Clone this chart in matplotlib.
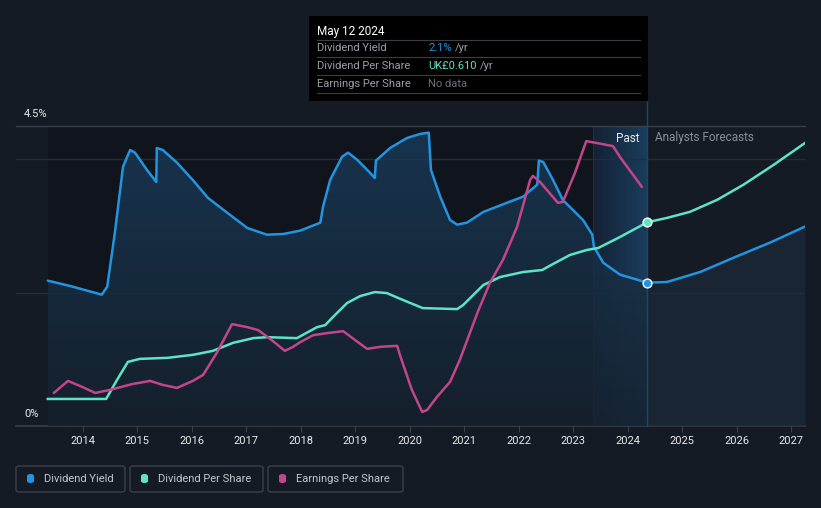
"""
Dividend yield / DPS / EPS history with analyst forecasts (dark theme)
Output: out.png
"""

import numpy as np
import matplotlib.pyplot as plt
from matplotlib.colors import LinearSegmentedColormap
from matplotlib.patches import FancyBboxPatch, Rectangle
from matplotlib.transforms import blended_transform_factory

plt.rcParams["font.family"] = ["Roboto", "DejaVu Sans"]

# ── Data ──────────────────────────────────────────────────────────────────────
YIELD_YEARS = [2013.36, 2013.77, 2014.35, 2014.45, 2014.59, 2014.74, 2014.87, 2014.96,
               2015.18, 2015.35, 2015.36, 2015.47, 2015.73, 2016.02, 2016.30, 2016.65,
               2017.02, 2017.38, 2017.68, 2017.99, 2018.36, 2018.41, 2018.54, 2018.76,
               2018.87, 2019.04, 2019.27, 2019.36, 2019.38, 2019.64, 2019.95, 2020.19,
               2020.35, 2020.39, 2020.56, 2020.74, 2020.87, 2021.05, 2021.35, 2021.79,
               2022.08, 2022.34, 2022.37, 2022.45, 2022.63, 2022.81, 2023.18, 2023.35,
               2023.38, 2023.55, 2023.86, 2024.36]
YIELD_PCT = [2.18, 2.10, 1.97, 2.09, 2.90, 3.89, 4.14, 4.10,
             3.84, 3.66, 4.17, 4.14, 3.95, 3.69, 3.42, 3.20,
             2.97, 2.87, 2.88, 2.93, 3.05, 3.29, 3.69, 4.04,
             4.10, 3.99, 3.80, 3.72, 3.98, 4.17, 4.32, 4.38,
             4.40, 3.84, 3.44, 3.09, 3.02, 3.05, 3.21, 3.35,
             3.44, 3.62, 3.98, 3.96, 3.69, 3.39, 3.09, 2.87,
             2.69, 2.45, 2.27, 2.15]
YIELD_FC_YEARS = [2024.36, 2024.72, 2025.33, 2025.93, 2026.61, 2027.25]
YIELD_FC_PCT   = [2.15, 2.16, 2.31, 2.52, 2.75, 2.99]

DPS_YEARS = [2013.36, 2014.43, 2014.63, 2014.83, 2015.05, 2015.55, 2016.02, 2016.39,
             2016.76, 2017.13, 2017.38, 2017.93, 2018.30, 2018.45, 2018.59, 2018.85,
             2019.09, 2019.36, 2019.58, 2019.88, 2020.24, 2020.87, 2020.98, 2021.35,
             2021.66, 2022.08, 2022.43, 2022.63, 2022.94, 2023.25, 2023.46, 2023.86,
             2024.36]
DPS_GBP = [0.081, 0.081, 0.138, 0.192, 0.201, 0.204, 0.213, 0.225,
           0.249, 0.263, 0.266, 0.263, 0.296, 0.302, 0.326, 0.368,
           0.389, 0.401, 0.398, 0.377, 0.353, 0.350, 0.362, 0.422,
           0.446, 0.461, 0.467, 0.485, 0.512, 0.527, 0.533, 0.566,
           0.610]
DPS_FC_YEARS = [2024.36, 2024.72, 2025.14, 2025.64, 2026.12, 2026.67, 2027.25]
DPS_FC_GBP   = [0.610, 0.623, 0.641, 0.677, 0.722, 0.781, 0.847]

EPS_YEARS = [2013.47, 2013.73, 2013.95, 2014.23, 2014.50, 2014.92, 2015.24, 2015.47,
             2015.73, 2016.02, 2016.21, 2016.46, 2016.74, 2017.02, 2017.22, 2017.47,
             2017.71, 2017.86, 2017.99, 2018.23, 2018.48, 2018.78, 2019.00, 2019.22,
             2019.46, 2019.77, 2019.82, 2020.04, 2020.23, 2020.32, 2020.50, 2020.74,
             2020.92, 2021.24, 2021.47, 2021.71, 2021.97, 2022.21, 2022.26, 2022.39,
             2022.72, 2022.81, 2023.03, 2023.24, 2023.44, 2023.73, 2023.86, 2024.26]
EPS_GBP = [0.099, 0.135, 0.120, 0.099, 0.108, 0.126, 0.135, 0.123,
           0.114, 0.135, 0.153, 0.219, 0.305, 0.296, 0.287, 0.257,
           0.225, 0.237, 0.251, 0.272, 0.278, 0.284, 0.257, 0.231,
           0.237, 0.240, 0.213, 0.108, 0.042, 0.048, 0.087, 0.132,
           0.198, 0.338, 0.428, 0.497, 0.596, 0.737, 0.749, 0.731,
           0.668, 0.671, 0.757, 0.853, 0.847, 0.838, 0.805, 0.716]

YEAR_TICKS = list(range(2014, 2028))
TODAY = 2024.36
PAST_START = 2023.37

# ── Style ─────────────────────────────────────────────────────────────────────
BG        = "#151b25"
C_YIELD   = "#2394e0"
C_DPS     = "#5fe3c8"
C_EPS     = "#c4468a"
GRID      = "#272d37"
TXT       = "#e8eaed"
MUTED     = "#8a9099"
LW        = 1.8

W, H = 821, 508
fig = plt.figure(figsize=(W / 100, H / 100), dpi=100, facecolor=BG)

X0, X1 = 16, 805
Y_BOT, Y_TOP = 426, 126
ax = fig.add_axes([X0 / W, 1 - Y_BOT / H, (X1 - X0) / W, (Y_BOT - Y_TOP) / H])
ax.set_facecolor(BG)
xmin = 2014 + (X0 - 82.7) / 54.5
xmax = 2014 + (X1 - 82.7) / 54.5
for s in ax.spines.values():
    s.set_visible(False)
ax.set_yticks([])

# price-per-share axis (DPS + EPS)
ax2 = ax.twinx()
ax2.set_ylim(0, 300 / 334)
ax2.set_yticks([])
for s in ax2.spines.values():
    s.set_visible(False)

# dark overlay for the historical period
ax.axvspan(YIELD_YEARS[0], PAST_START, color="#0c1016", alpha=0.55, lw=0, zorder=0)

# past-year highlight band (horizontal gradient)
grad = np.linspace(0, 1, 100).reshape(1, -1)
band_cmap = LinearSegmentedColormap.from_list("band", ["#152437", "#1b4163"])
ax.imshow(grad, extent=[PAST_START, TODAY, 0, 4.5], aspect="auto",
          cmap=band_cmap, zorder=0.5, alpha=0.9)
ax.axvline(PAST_START, color="#1d3447", lw=0.8, zorder=0.6)

# gridlines
ax.axhline(4.5, color="#3a404a", lw=1, zorder=1, clip_on=False)
for g in [4.0, 2.0]:
    ax.axhline(g, color=GRID, lw=1, zorder=1)
ax.axhline(0, color="#3a404a", lw=1.2, zorder=1, clip_on=False)

# dividend yield fill (vertical gradient clipped to area under curve)
vgrad = np.linspace(0, 1, 200).reshape(-1, 1)
fill_cmap = LinearSegmentedColormap.from_list("fill", ["#1a3a58", "#16222f"])
poly = ax.fill_between(YIELD_YEARS, YIELD_PCT, 0, color="none", lw=0)
img = ax.imshow(vgrad, extent=[YIELD_YEARS[0], TODAY, 0, 4.5], aspect="auto",
                cmap=fill_cmap, alpha=0.85, zorder=1.5, origin="upper")
img.set_clip_path(poly.get_paths()[0], transform=ax.transData)
ax.fill_between(YIELD_FC_YEARS, YIELD_FC_PCT, 0, color="#1c2b3b", alpha=0.65,
                lw=0, zorder=1.4)
ax.set_xlim(xmin, xmax)
ax.set_ylim(0, 4.5)

# lines
ax.plot(YIELD_YEARS, YIELD_PCT, color=C_YIELD, lw=LW, zorder=3,
        solid_joinstyle="round", solid_capstyle="round")
ax.plot(YIELD_FC_YEARS, YIELD_FC_PCT, color=C_YIELD, lw=LW, zorder=3,
        solid_joinstyle="round")
ax2.plot(DPS_YEARS, DPS_GBP, color=C_DPS, lw=LW, zorder=3, solid_joinstyle="round")
ax2.plot(DPS_FC_YEARS, DPS_FC_GBP, color=C_DPS, lw=LW, zorder=3, solid_joinstyle="round")
ax2.plot(EPS_YEARS, EPS_GBP, color=C_EPS, lw=LW, zorder=3,
         solid_joinstyle="round", solid_capstyle="round")

# today markers
ax.scatter([TODAY], [YIELD_PCT[-1]], s=40, color=C_YIELD, edgecolors="white",
           linewidths=1.0, zorder=5)
ax2.scatter([TODAY], [DPS_GBP[-1]], s=40, color=C_DPS, edgecolors="white",
            linewidths=1.0, zorder=5)

# today line up to tooltip
tr = blended_transform_factory(ax.transData, ax.transAxes)
ax.plot([TODAY, TODAY], [0, (Y_BOT - 101) / (Y_BOT - Y_TOP)], color="#1e4666",
        lw=1, transform=tr, clip_on=False, zorder=2)

ax.text(TODAY - 0.15, 4.32, "Past", color=TXT, fontsize=8.5, ha="right",
        va="center", zorder=6)
ax.text(TODAY + 0.15, 4.32, "Analysts Forecasts", color=MUTED, fontsize=8.5,
        ha="left", va="center", zorder=6)

# axis labels
ax.set_xticks(YEAR_TICKS)
ax.set_xticklabels([str(y) for y in YEAR_TICKS], color=TXT, fontsize=8)
ax.tick_params(axis="x", length=4, color="#3a404a", pad=3)
fig.text(24 / W, 1 - 114 / H, "4.5%", color=TXT, fontsize=8, va="center")
fig.text(24 / W, 1 - 414 / H, "0%", color=TXT, fontsize=8, va="center")

# ── Tooltip ───────────────────────────────────────────────────────────────────
def fx(px):
    return px / W

def fy(py):
    return 1 - py / H

fig.patches.append(Rectangle((fx(309), fy(101)), fx(648) - fx(309), fy(16) - fy(101),
                             transform=fig.transFigure, facecolor="black",
                             edgecolor="none", zorder=10))
fig.text(fx(317), fy(31), "May 12 2024", color="white", fontsize=8.5,
         va="center", zorder=11)
rows = [("Dividend Yield", "2.1%", C_YIELD),
        ("Dividend Per Share", "UK£0.610", C_DPS),
        ("Earnings Per Share", "No data", "#6b7078")]
fig.canvas.draw()
for i, (lab, val, col) in enumerate(rows):
    yy = 48 + i * 18
    fig.text(fx(317), fy(yy), lab, color="#9aa0a8", fontsize=8, va="center", zorder=11)
    t = fig.text(fx(428), fy(yy), val, color=col, fontsize=8, va="center", zorder=11)
    if val != "No data":
        bb = t.get_window_extent(renderer=fig.canvas.get_renderer())
        fig.text(bb.x1 / W + 3 / W, fy(yy), "/yr", color="#9aa0a8", fontsize=8,
                 va="center", zorder=11)
for yy in [40, 57, 75, 93]:
    fig.add_artist(plt.Line2D([fx(317), fx(640)], [fy(yy), fy(yy)], color="#3a3d42",
                              lw=0.8, zorder=11))

# ── Legend ────────────────────────────────────────────────────────────────────
legend = [("Dividend Yield", C_YIELD, 16, 125),
          ("Dividend Per Share", C_DPS, 130, 263),
          ("Earnings Per Share", C_EPS, 268, 403)]
for lab, col, lx0, lx1 in legend:
    fig.patches.append(FancyBboxPatch((fx(lx0), fy(492)), fx(lx1) - fx(lx0),
                                      fy(466) - fy(492),
                                      boxstyle="round,pad=0,rounding_size=0.004",
                                      transform=fig.transFigure, facecolor="none",
                                      edgecolor="#3b4049", lw=1))
    fig.patches.append(FancyBboxPatch((fx(lx0 + 11), fy(483)), 7 / W, 9 / H,
                                      boxstyle="round,pad=0,rounding_size=0.004",
                                      transform=fig.transFigure, facecolor=col,
                                      edgecolor="none"))
    fig.text(fx(lx0 + 28), fy(479), lab, color="#c3c7cd", fontsize=8, va="center")

fig.savefig("out.png", dpi=100, facecolor=BG)
